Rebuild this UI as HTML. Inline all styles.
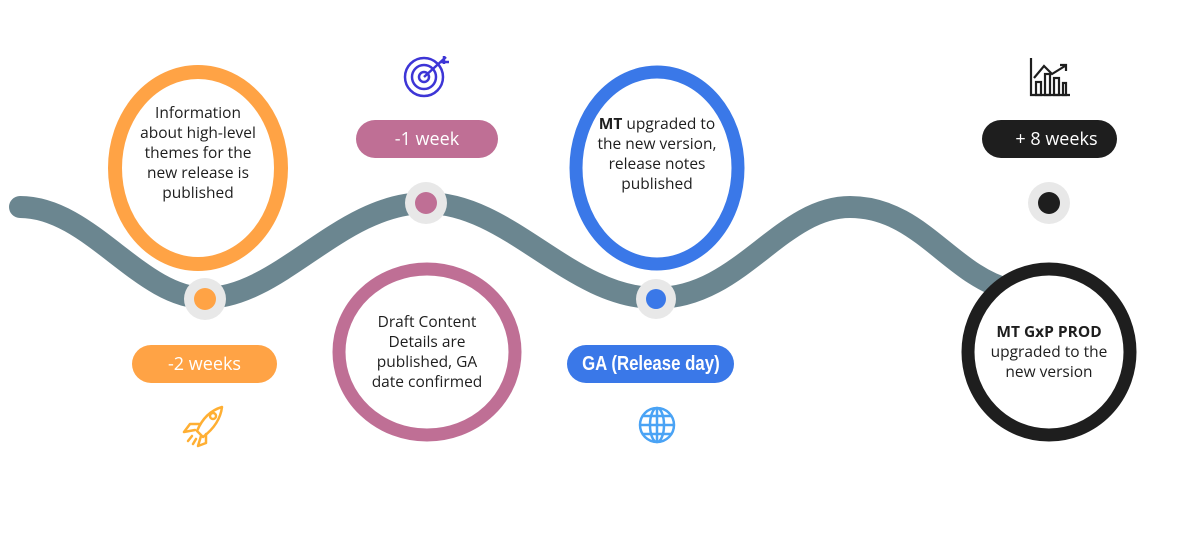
<!DOCTYPE html>
<html><head><meta charset="utf-8"><style>
html,body{margin:0;padding:0;background:#fff;}
body{width:1185px;height:537px;overflow:hidden;position:relative;font-family:"Open Sans","Liberation Sans","DejaVu Sans",sans-serif;}
svg{position:absolute;left:0;top:0;}
.t{position:absolute;text-align:center;font-size:15.5px;line-height:20px;color:#1e1e1e;}
.pill{position:absolute;height:38px;line-height:38px;border-radius:19px;color:#fff;text-align:center;font-size:18px;}
</style></head><body>
<svg width="1185" height="537" viewBox="0 0 1185 537">
<path d="M20,207 C90,207 140,298 205,298 C280,298 340,203 426,203 C510,203 570,298 656,298 C740,298 780,207 850,207 C920,207 950,275 1010,290" fill="none" stroke="#6b8690" stroke-width="22" stroke-linecap="round"/>
<ellipse cx="198" cy="168" rx="83" ry="96" fill="#fff" stroke="#ffa345" stroke-width="14"/>
<ellipse cx="427" cy="352" rx="88" ry="83" fill="#fff" stroke="#bf6f95" stroke-width="13"/>
<ellipse cx="657" cy="168" rx="81" ry="96" fill="#fff" stroke="#3a78e8" stroke-width="13"/>
<ellipse cx="1049" cy="352" rx="81" ry="83" fill="#fff" stroke="#1e1e1e" stroke-width="13"/>
<circle cx="205" cy="299" r="21" fill="#e8e8e8"/><circle cx="205" cy="299" r="11" fill="#ffa345"/>
<circle cx="426" cy="203" r="21" fill="#e8e8e8"/><circle cx="426" cy="203" r="11" fill="#bf6f95"/>
<circle cx="656" cy="299" r="20" fill="#e8e8e8"/><circle cx="656" cy="299" r="10" fill="#3a78e8"/>
<circle cx="1049" cy="203" r="21" fill="#e8e8e8"/><circle cx="1049" cy="203" r="11" fill="#1e1e1e"/>
<g fill="none" stroke="#3d35d6" stroke-width="2.5">
<circle cx="424" cy="77" r="19"/><circle cx="424" cy="77" r="12"/><circle cx="424" cy="77" r="5"/>
<path d="M424,77 L446,57 M444,56 V64 M440,62 H449"/></g>
<g fill="none" stroke="#ffaf33" stroke-width="2.5" stroke-linejoin="round" stroke-linecap="round">
<path d="M197,431 Q205,412 222,407 Q220,424 203,437 Z"/>
<circle cx="213" cy="416" r="3"/>
<path d="M200,424 L190,424 L184,432 L195,430"/>
<path d="M206,434 L206,443 L198,446 L201,436"/>
<path d="M192,436 L188,441 M196,439 L193,444"/></g>
<g fill="none" stroke="#4aa3f5" stroke-width="2.5">
<circle cx="657" cy="425" r="17"/><ellipse cx="657" cy="425" rx="7" ry="17"/>
<path d="M640,425 H674 M643,416 H671 M643,434 H671 M657,408 V442"/></g>
<g fill="none" stroke="#1e1e1e" stroke-width="2.2">
<path d="M1031,58 V95 H1070"/>
<rect x="1036" y="82" width="5" height="13"/><rect x="1045" y="74" width="5" height="21"/><rect x="1054" y="78" width="5" height="17"/><rect x="1063" y="83" width="3" height="12"/>
<path d="M1034,78 L1044,66 L1052,74 L1065,66 M1060,65 H1066 V71"/></g>
</svg>
<div class="t" style="left:120px;top:102px;width:156px;">Information<br>about high-level<br>themes for the<br>new release is<br>published</div>
<div class="t" style="left:345px;top:311px;width:164px;">Draft Content<br>Details are<br>published, GA<br>date confirmed</div>
<div class="t" style="left:576px;top:113px;width:162px;"><b>MT</b> upgraded to<br>the new version,<br>release notes<br>published</div>
<div class="t" style="left:969px;top:321px;width:160px;"><b>MT GxP PROD</b><br>upgraded to the<br>new version</div>
<div class="pill" style="left:132px;top:345px;width:145px;background:#ffa345;">-2 weeks</div>
<div class="pill" style="left:356px;top:120px;width:142px;background:#bf6f95;">-1 week</div>
<div class="pill" style="left:567px;top:345px;width:167px;background:#3a78e8;"><span style="display:inline-block;transform:scaleX(0.84);font-weight:bold;font-family:'Liberation Sans',sans-serif;font-size:20px;">GA (Release day)</span></div>
<div class="pill" style="left:982px;top:120px;width:135px;background:#1e1e1e;padding-left:14px;box-sizing:border-box;">+ 8 weeks</div>
</body></html>
